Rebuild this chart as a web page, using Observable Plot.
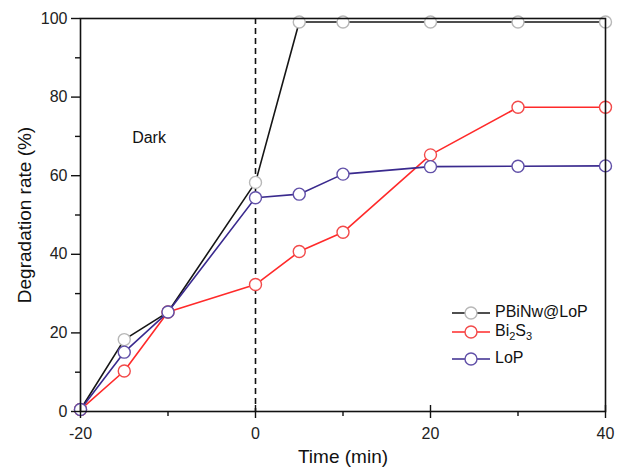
<!DOCTYPE html>
<html><head><meta charset="utf-8">
<script src="https://cdn.jsdelivr.net/npm/d3@7"></script>
<script src="https://cdn.jsdelivr.net/npm/@observablehq/plot@0.6"></script>
<style>
body{margin:0;background:#fff;font-family:"Liberation Sans",Arial,sans-serif;}
#wrap{position:relative;width:620px;height:474px;}
#legend{position:absolute;left:0;top:0;width:620px;height:474px;pointer-events:none;}
.lg{position:absolute;font-size:16px;color:#111;white-space:nowrap;}
.lg sub{font-size:11px;}
</style>
</head><body>
<div id="wrap"></div>
<script>
const times = [-20, -15, -10, 0, 5, 10, 20, 30, 40];
const pbinw = [0.5, 18.3, 25.3, 58.3, 99.1, 99.1, 99.1, 99.1, 99.1];
const bi2s3 = [0.5, 10.3, 25.3, 32.3, 40.7, 45.6, 65.3, 77.4, 77.4];
const lop   = [0.5, 15.1, 25.3, 54.4, 55.3, 60.4, 62.3, 62.4, 62.5];
const seriesNames = ["PBiNw@LoP", "Bi2S3", "LoP"];
const lineColors = ["#151515", "#ff2a2a", "#3a2a8e"];
const dotColors = ["#b8b8b8", "#f24a4a", "#6150a8"];
const xMajor = [-20, 0, 20, 40];
const xMinor = [-10, 10, 30];
const yMajor = [0, 20, 40, 60, 80, 100];
const yMinor = [10, 30, 50, 70, 90];
const lightOn = [0];
const note = {text: "Dark", x: -14.1, y: 69.7};

const seriesVals = [pbinw, bi2s3, lop];
const rows = seriesVals.flatMap((vals, i) => vals.map((v, j) => ({s: seriesNames[i], i, t: times[j], v})));
const fmt = d => String(d);

const marks = [];
marks.push(Plot.ruleX(lightOn, {stroke: "#111", strokeWidth: 1.6, strokeDasharray: "6,4"}));
seriesNames.forEach((name, i) => {
  const d = rows.filter(r => r.i === i);
  marks.push(Plot.line(d, {x: "t", y: "v", stroke: lineColors[i], strokeWidth: 1.6}));
  marks.push(Plot.dot(d, {x: "t", y: "v", r: 6, fill: "white", stroke: dotColors[i], strokeWidth: 1.4}));
});
marks.push(
  Plot.frame({stroke: "#111", strokeWidth: 1.6}),
  Plot.axisY(yMajor, {tickSize: 9, tickPadding: 4, fontSize: 16, tickFormat: fmt, stroke: "#111", strokeWidth: 1.4, color: "#222", label: null}),
  Plot.axisY(yMinor, {tickSize: 5, tickFormat: () => "", stroke: "#111", strokeWidth: 1.4, label: null}),
  Plot.axisX(xMajor, {tickSize: 7, tickPadding: 9, fontSize: 16, tickFormat: fmt, stroke: "#111", strokeWidth: 1.4, color: "#222", label: null}),
  Plot.axisX(xMajor, {tickSize: -6, tickFormat: () => "", stroke: "#111", strokeWidth: 1.4, label: null}),
  Plot.axisX(xMinor, {tickSize: 5, tickFormat: () => "", stroke: "#111", strokeWidth: 1.4, label: null}),
  Plot.text([note], {x: "x", y: "y", text: "text", textAnchor: "start", fontSize: 16, fill: "#111"}),
  Plot.text(["Degradation rate (%)"], {frameAnchor: "left", textAnchor: "middle", rotate: -90, dx: -56, fontSize: 19, fill: "#111"}),
  Plot.text(["Time (min)"], {frameAnchor: "bottom", dy: 51, fontSize: 19, fill: "#111"})
);

const chart = Plot.plot({
  width: 620, height: 474,
  marginLeft: 80, marginRight: 15, marginTop: 18, marginBottom: 63,
  style: {fontFamily: "'Liberation Sans', Arial, sans-serif", background: "white"},
  x: {domain: [-20, 40], label: null},
  y: {domain: [0, 100], label: null},
  marks
});
const wrap = document.getElementById("wrap");
wrap.appendChild(chart);

// legend overlay
const legend = d3.select(wrap).append("div").attr("id", "legend");
const legendRows = [313, 332, 359];
const labelsHtml = ["PBiNw@LoP", "Bi<sub>2</sub>S<sub>3</sub>", "LoP"];
const svg = legend.append("svg").attr("width", 620).attr("height", 474).style("position", "absolute").style("left", 0).style("top", 0);
seriesNames.forEach((name, i) => {
  const y = legendRows[i];
  svg.append("line").attr("x1", 452).attr("x2", 490).attr("y1", y).attr("y2", y).attr("stroke", lineColors[i]).attr("stroke-width", 1.6);
  svg.append("circle").attr("cx", 471).attr("cy", y).attr("r", 6).attr("fill", "white").attr("stroke", dotColors[i]).attr("stroke-width", 1.4);
  legend.append("div").attr("class", "lg").style("left", "495px").style("top", (y - 10) + "px").html(labelsHtml[i]);
});
</script>
</body></html>
